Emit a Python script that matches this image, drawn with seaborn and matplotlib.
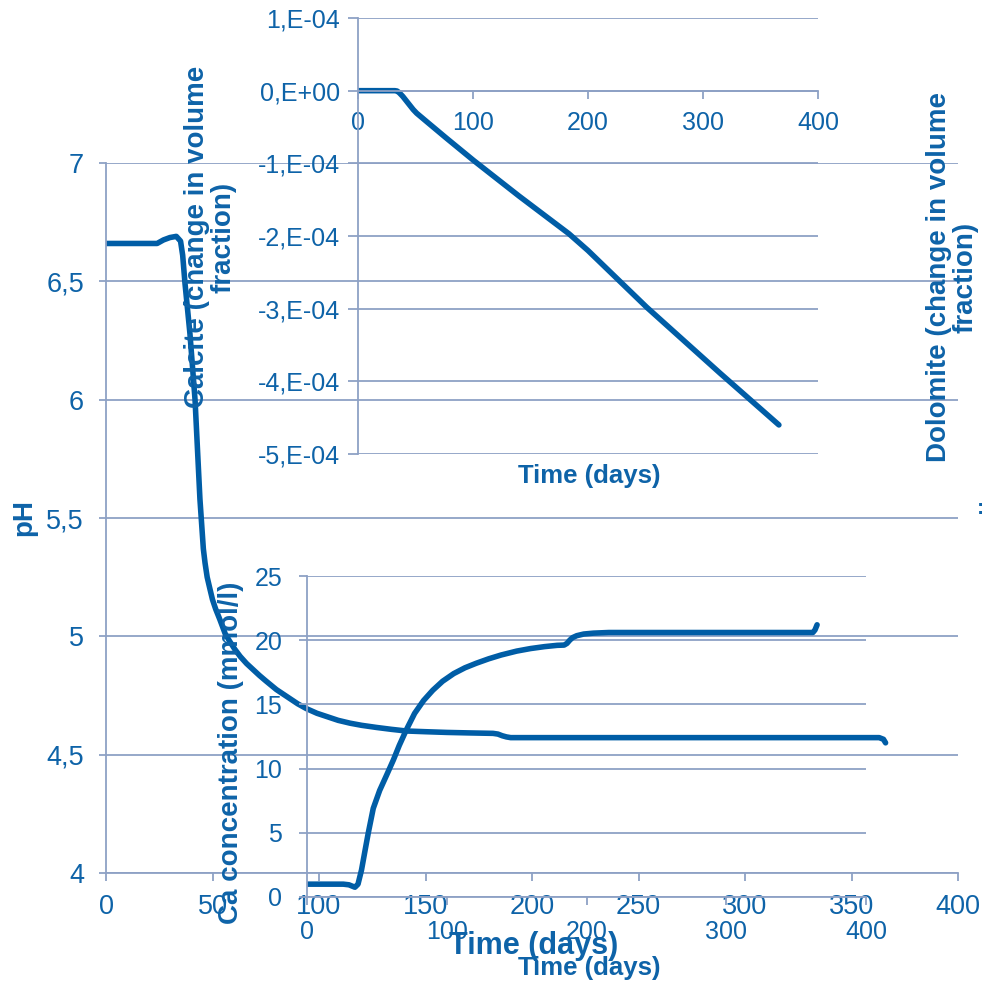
import matplotlib
matplotlib.use("Agg")
import matplotlib.pyplot as plt
import seaborn as sns
import numpy as np

# ---------------- data ----------------
ph_days = [0, 24, 27, 30, 33, 35, 36, 37.1, 39.4, 41.8, 44.1, 45.7, 46.5, 47.5, 48.8, 50, 51.5, 53.5,
           56, 58, 60.5, 63, 66, 69, 72, 75, 80, 85, 90, 94, 99, 104, 109, 114.6, 120, 127, 134, 141,
           150, 160, 170, 181.7, 184, 186, 188, 190, 200, 363, 365, 366]
ph_values = [6.66, 6.66, 6.675, 6.685, 6.69, 6.67, 6.61, 6.49, 6.28, 6.00, 5.58, 5.37, 5.31, 5.25,
             5.20, 5.155, 5.115, 5.07, 5.01, 4.98, 4.945, 4.915, 4.885, 4.86, 4.835, 4.812, 4.775,
             4.745, 4.715, 4.695, 4.675, 4.66, 4.645, 4.633, 4.624, 4.615, 4.607, 4.60, 4.597, 4.594,
             4.592, 4.590, 4.587, 4.58, 4.575, 4.572, 4.572, 4.572, 4.565, 4.55]

calcite_days = [0, 32, 34, 36, 39, 42, 45, 48, 51, 60, 77, 100.5, 140, 183.5, 200, 251, 315, 366]
calcite_values = [0.0, 0.0, -0.005e-4, -0.03e-4, -0.08e-4, -0.14e-4, -0.2e-4, -0.26e-4, -0.31e-4,
                  -0.43e-4, -0.655e-4, -0.96e-4, -1.45e-4, -1.97e-4, -2.2e-4, -2.98e-4, -3.89e-4,
                  -4.6e-4]

ca_days = [0, 26, 30, 34.3, 36.5, 39, 41.5, 43.8, 47.4, 52, 57, 61.8, 66, 71, 77, 83.4, 90, 97, 105,
           113, 121, 130, 139, 150, 160, 170, 179, 184, 186, 188, 190, 193, 198, 205, 216, 362, 363.5,
           365]
ca_values = [1.0, 1.0, 0.95, 0.76, 1.0, 2.1, 3.6, 4.96, 6.9, 8.3, 9.5, 10.67, 11.8, 13.0, 14.3, 15.3,
             16.1, 16.8, 17.4, 17.85, 18.2, 18.55, 18.85, 19.15, 19.35, 19.5, 19.6, 19.62, 19.75,
             20.0, 20.2, 20.35, 20.48, 20.55, 20.6, 20.6, 20.8, 21.2]

ph_ticks = [4, 4.5, 5, 5.5, 6, 6.5, 7]
ph_ticklabels = ["4", "4,5", "5", "5,5", "6", "6,5", "7"]
main_xticks = [0, 50, 100, 150, 200, 250, 300, 350, 400]
calcite_ticks = [-5e-4, -4e-4, -3e-4, -2e-4, -1e-4, 0, 1e-4]
calcite_ticklabels = ["-5,E-04", "-4,E-04", "-3,E-04", "-2,E-04", "-1,E-04", "0,E+00", "1,E-04"]
inset_xticks = [0, 100, 200, 300, 400]
ca_ticks = [0, 5, 10, 15, 20, 25]

# ---------------- style ----------------
sns.set_theme(style="white")
plt.rcParams['font.family'] = ['Liberation Sans', 'DejaVu Sans']

LINE = '#005DA6'
TEXT = '#0E63A8'
GRID = '#8EA1C5'
W, H = 982, 986
LW = 4.0

fig = plt.figure(figsize=(W / 100, H / 100), dpi=100)
fig.patch.set_facecolor('white')


def rect(l, t, r, b):
    return [l / W, 1 - b / H, (r - l) / W, (b - t) / H]


def fx(px):
    return px / W


def fy(py):
    return 1 - py / H


def style_axes(ax):
    ax.patch.set_visible(False)
    for s in ax.spines.values():
        s.set_color(GRID)
        s.set_linewidth(1.3)
    ax.spines['top'].set_visible(False)
    ax.spines['right'].set_visible(False)
    ax.grid(True, axis='y', color=GRID, linewidth=1.3)
    ax.grid(False, axis='x')
    ax.set_xlabel('')
    ax.set_ylabel('')


# ---------------- main pH axes ----------------
ax1 = fig.add_axes(rect(106, 163, 958, 873))
sns.lineplot(x=ph_days, y=ph_values, ax=ax1, color=LINE, linewidth=LW, estimator=None)
ax1.set_xlim(0, 400)
ax1.set_ylim(4, 7)
style_axes(ax1)
ax1.set_yticks(ph_ticks)
ax1.set_yticklabels(ph_ticklabels)
ax1.set_xticks(main_xticks)
ax1.set_xticklabels([str(v) for v in main_xticks])
ax1.tick_params(axis='y', length=5.4, width=1.3, color=GRID, pad=10.5, labelsize=19.5, labelcolor=TEXT, left=True)
ax1.tick_params(axis='x', length=5.8, width=1.3, color=GRID, pad=9, labelsize=19.5, labelcolor=TEXT, bottom=True)

# ---------------- calcite inset ----------------
ax2 = fig.add_axes(rect(358, 18, 818, 454))
sns.lineplot(x=calcite_days, y=calcite_values, ax=ax2, color=LINE, linewidth=LW, estimator=None)
ax2.set_xlim(0, 400)
ax2.set_ylim(-5e-4, 1e-4)
style_axes(ax2)
ax2.spines['bottom'].set_position(('data', 0))
ax2.set_yticks(calcite_ticks)
ax2.set_yticklabels(calcite_ticklabels)
ax2.set_xticks(inset_xticks)
ax2.set_xticklabels([str(v) for v in inset_xticks])
ax2.tick_params(axis='y', length=7.2, width=1.3, color=GRID, pad=6, labelsize=18, labelcolor=TEXT, left=True)
ax2.tick_params(axis='x', length=5.8, width=1.3, color=GRID, pad=9, labelsize=18, labelcolor=TEXT, bottom=True)

# ---------------- Ca inset ----------------
ax3 = fig.add_axes(rect(307, 576, 866, 897))
sns.lineplot(x=ca_days, y=ca_values, ax=ax3, color=LINE, linewidth=LW, estimator=None)
ax3.set_xlim(0, 400)
ax3.set_ylim(0, 25)
style_axes(ax3)
ax3.set_yticks(ca_ticks)
ax3.set_yticklabels([str(v) for v in ca_ticks])
ax3.set_xticks(inset_xticks)
ax3.set_xticklabels([str(v) for v in inset_xticks])
ax3.tick_params(axis='y', length=5.8, width=1.3, color=GRID, pad=12, labelsize=18, labelcolor=TEXT, left=True)
ax3.tick_params(axis='x', length=5.8, width=1.3, color=GRID, pad=10.5, labelsize=18, labelcolor=TEXT, bottom=True)

# ---------------- labels ----------------
bold = dict(color=TEXT, fontweight='bold', ha='center', va='center')
fig.text(fx(24), fy(517), 'pH', rotation=90, fontsize=20, **bold)
fig.text(fx(534), fy(946), 'Time (days)', fontsize=22, **bold)
fig.text(fx(589), fy(968), 'Time (days)', fontsize=18.5, **bold)
fig.text(fx(589), fy(476), 'Time (days)', fontsize=18.5, **bold)
fig.text(fx(210), fy(237), 'Calcite (change in volume\nfraction)', rotation=90, fontsize=20,
         linespacing=1.05, multialignment='center', **bold)
fig.text(fx(952), fy(277), 'Dolomite (change in volume\nfraction)', rotation=90, fontsize=20,
         linespacing=1.05, multialignment='center', **bold)
fig.text(fx(231), fy(753), 'Ca concentration (mmol/l)', rotation=90, fontsize=20, **bold)
fig.text(fx(981), fy(508), ':', fontsize=16, **bold)

fig.savefig('out.png', dpi=100, facecolor='white')
